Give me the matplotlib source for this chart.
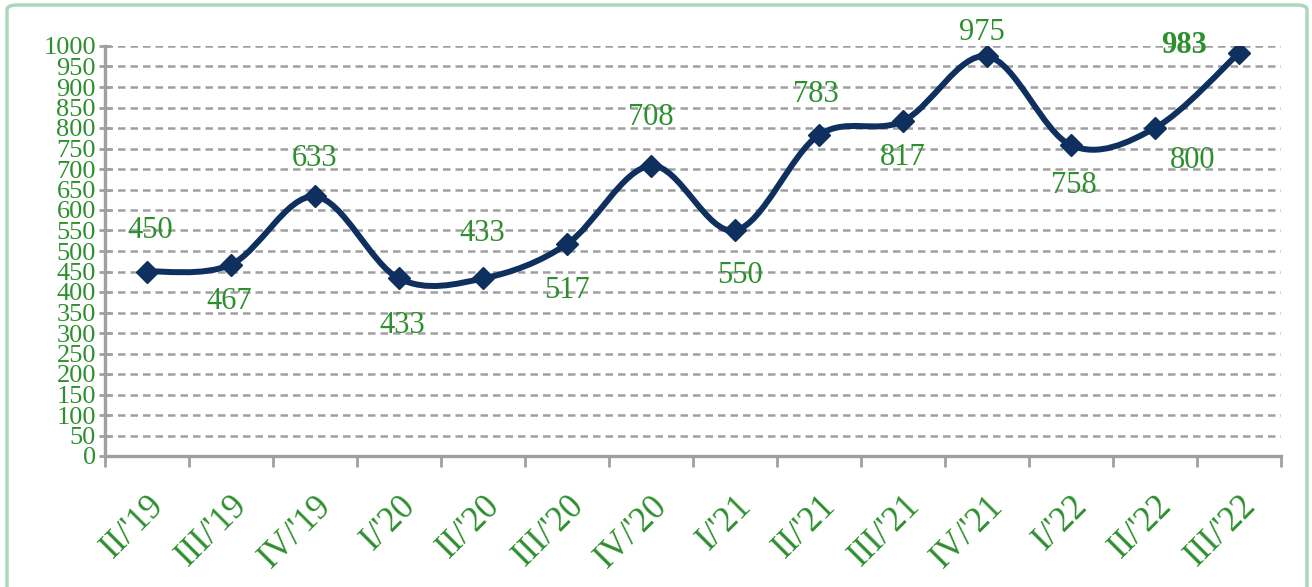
import matplotlib.pyplot as plt
import numpy as np
from matplotlib.path import Path
from matplotlib.patches import PathPatch, FancyBboxPatch
import matplotlib.transforms as mtransforms

quarters = ["II/'19", "III/'19", "IV/'19", "I/'20", "II/'20", "III/'20", "IV/'20",
            "I/'21", "II/'21", "III/'21", "IV/'21", "I/'22", "II/'22", "III/'22"]
values = [450, 467, 633, 433, 433, 517, 708, 550, 783, 817, 975, 758, 800, 983]
# label offsets in pixels (dx, dy)
label_offsets = [(3, 41), (-2, -37), (0, 38), (3, -47), (-1, 45), (0, -46), (0, 48),
                 (5, -45), (-3, 40), (0, -36), (-5, 24), (3, -40), (38, -32), (-55, 7)]

navy = '#0f2f5f'
green = '#2e8f2e'
grey = '#a0a0a0'

fig = plt.figure(figsize=(13.12, 5.87), dpi=100)
ax = fig.add_axes([105/1312, 1-456/587, (1281-105)/1312, 410/587])

x = np.arange(len(values))
y = np.array(values, dtype=float)

# smooth line like a spreadsheet "smoothed line" (cubic bezier through points)
verts = [(x[0], y[0])]
codes = [Path.MOVETO]
n = len(x)
for i in range(n - 1):
    p0 = np.array([x[max(i-1, 0)], y[max(i-1, 0)]])
    p1 = np.array([x[i], y[i]])
    p2 = np.array([x[i+1], y[i+1]])
    p3 = np.array([x[min(i+2, n-1)], y[min(i+2, n-1)]])
    c1 = p1 + (p2 - p0) / 6
    c2 = p2 - (p3 - p1) / 6
    verts += [tuple(c1), tuple(c2), tuple(p2)]
    codes += [Path.CURVE4] * 3
ax.add_patch(PathPatch(Path(verts, codes), facecolor='none', edgecolor=navy,
                       lw=4.3, capstyle='round', joinstyle='round', zorder=3))
ax.plot(x, y, linestyle='none', marker='D', markersize=11.5, color=navy, zorder=4)

for i, v in enumerate(values):
    dx, dy = label_offsets[i]
    ax.annotate(str(v), (x[i], y[i]), xytext=(dx, dy), textcoords='offset pixels',
                ha='center', va='center', fontsize=22, color=green,
                family='Liberation Serif',
                fontweight='bold' if i == n - 1 else 'normal')

ax.set_xlim(-0.5, n - 0.5)
ax.set_ylim(0, 1000)
ax.set_yticks(np.arange(0, 1001, 50))
ax.set_yticklabels([str(t) for t in range(0, 1001, 50)], family='Liberation Serif',
                   fontsize=19, color=green)
ax.yaxis.grid(True, linestyle=(0, (3, 2)), color=grey, lw=1.8)

ax.set_xticks(np.arange(-0.5, n, 1))
ax.set_xticklabels([])
ax.set_xticks(x, minor=True)
ax.set_xticklabels(quarters, minor=True, rotation=45, ha='right', va='top',
                   rotation_mode='anchor', family='Liberation Serif', fontsize=25,
                   color=green)
shift = mtransforms.ScaledTranslation(8/100, 0, fig.dpi_scale_trans)
for lab in ax.get_xticklabels(minor=True):
    lab.set_transform(lab.get_transform() + shift)
ax.tick_params(axis='x', which='minor', length=0, pad=24)
ax.tick_params(axis='x', which='major', length=8, width=2, color=grey, direction='out')
ax.tick_params(axis='y', length=9, width=2, color=grey, direction='inout', pad=2)

for s in ['top', 'right']:
    ax.spines[s].set_visible(False)
for s in ['left', 'bottom']:
    ax.spines[s].set_color(grey)
    ax.spines[s].set_linewidth(2.4)

border = FancyBboxPatch((7/1312, -0.05), (1307-7)/1312, 1 - 5/587 + 0.05,
                        boxstyle='round,pad=0,rounding_size=0.008',
                        transform=fig.transFigure, facecolor='none',
                        edgecolor='#a8d8b9', lw=2.5, clip_on=False)
fig.patches.append(border)

fig.savefig('out.png', dpi=100)
